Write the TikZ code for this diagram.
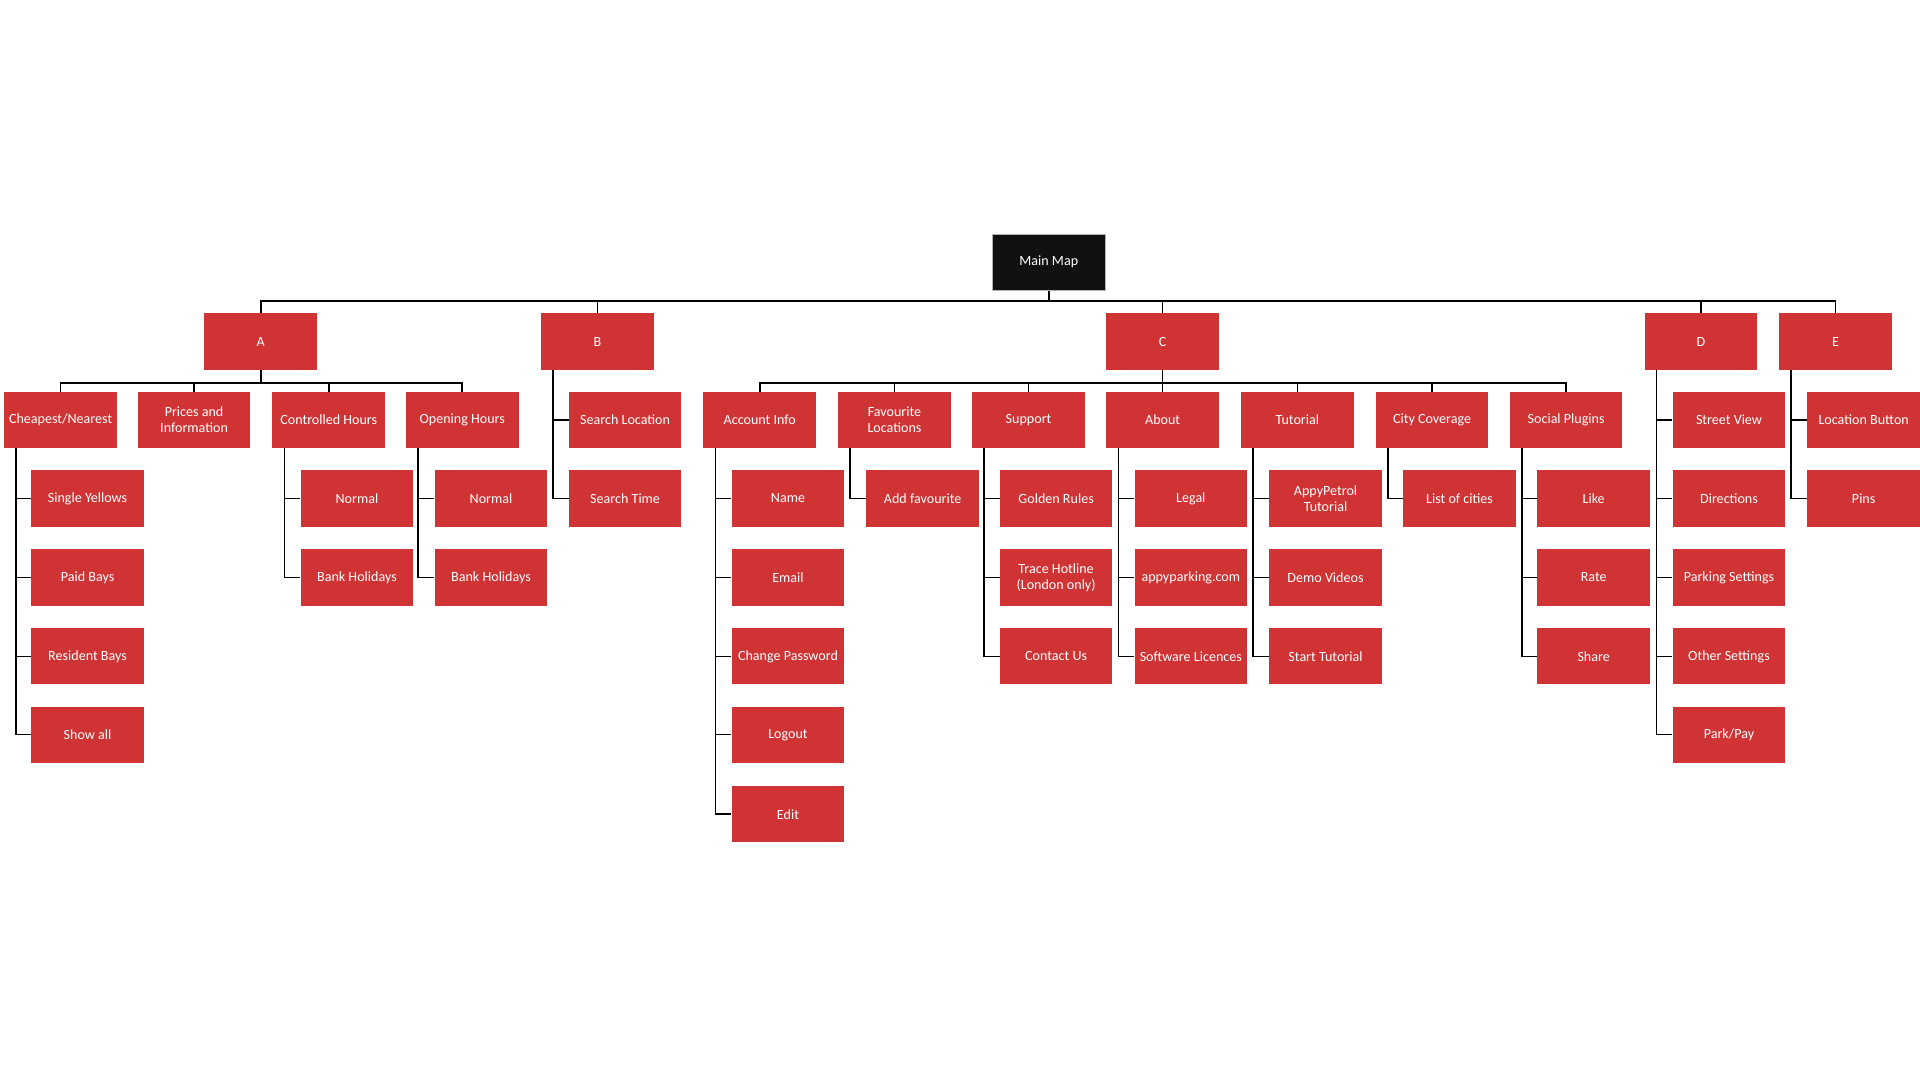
\documentclass[tikz,border=0pt]{standalone}
\usepackage{fontspec}
\setmainfont{Carlito}
\definecolor{boxred}{RGB}{207,51,52}
\definecolor{boxblack}{RGB}{17,17,17}
\begin{document}
\begin{tikzpicture}[x=1pt,y=-1pt,
  box/.style={rectangle,fill=boxred,text=white,minimum width=92pt,minimum height=46pt,inner sep=1pt,align=center,font=\fontsize{11.5}{13}\selectfont},
  rootbox/.style={box,fill=boxblack,draw=gray!60,line width=0.6pt},
  conn/.style={draw=black,line width=1.3pt}]
\useasboundingbox (0,0) rectangle (1568,880);
\fill[white] (0,0) rectangle (1568,880);
% root
\node[rootbox] (mm) at (856.5,214) {Main Map};
% level 1
\node[box] (A) at (213,279) {A};
\node[box] (B) at (488,279) {B};
\node[box] (C) at (949.5,279) {C};
\node[box] (D) at (1389,279) {D};
\node[box] (E) at (1499,279) {E};
% A children
\node[box] (a1) at (49.5,343) {Cheapest/Nearest};
\node[box] (a2) at (158.5,343) {Prices and\\Information};
\node[box] (a3) at (268.5,343) {Controlled Hours};
\node[box] (a4) at (377.5,343) {Opening Hours};
\node[box] (a11) at (71.5,407) {Single Yellows};
\node[box] (a12) at (71.5,471.5) {Paid Bays};
\node[box] (a13) at (71.5,536) {Resident Bays};
\node[box] (a14) at (71.5,600) {Show all};
\node[box] (a31) at (291.5,407) {Normal};
\node[box] (a32) at (291.5,471.5) {Bank Holidays};
\node[box] (a41) at (401,407) {Normal};
\node[box] (a42) at (401,471.5) {Bank Holidays};
% B children
\node[box] (b1) at (510.5,343) {Search Location};
\node[box] (b2) at (510.5,407) {Search Time};
% C children
\node[box] (c1) at (620.5,343) {Account Info};
\node[box] (c2) at (730.5,343) {Favourite\\Locations};
\node[box] (c3) at (840,343) {Support};
\node[box] (c4) at (949.5,343) {About};
\node[box] (c5) at (1059.5,343) {Tutorial};
\node[box] (c6) at (1169.5,343) {City Coverage};
\node[box] (c7) at (1279,343) {Social Plugins};
\node[box] (c11) at (643.5,407) {Name};
\node[box] (c12) at (643.5,471.5) {Email};
\node[box] (c13) at (643.5,536) {Change Password};
\node[box] (c14) at (643.5,600) {Logout};
\node[box] (c15) at (643.5,665) {Edit};
\node[box] (c21) at (753.5,407) {Add favourite};
\node[box] (c31) at (862.5,407) {Golden Rules};
\node[box] (c32) at (862.5,471.5) {Trace Hotline\\(London only)};
\node[box] (c33) at (862.5,536) {Contact Us};
\node[box] (c41) at (972.5,407) {Legal};
\node[box] (c42) at (972.5,471.5) {appyparking.com};
\node[box] (c43) at (972.5,536) {Software Licences};
\node[box] (c51) at (1082.5,407) {AppyPetrol\\Tutorial};
\node[box] (c52) at (1082.5,471.5) {Demo Videos};
\node[box] (c53) at (1082.5,536) {Start Tutorial};
\node[box] (c61) at (1192,407) {List of cities};
\node[box] (c71) at (1301.5,407) {Like};
\node[box] (c72) at (1301.5,471.5) {Rate};
\node[box] (c73) at (1301.5,536) {Share};
% D children
\node[box] (d1) at (1412,343) {Street View};
\node[box] (d2) at (1412,407) {Directions};
\node[box] (d3) at (1412,471.5) {Parking Settings};
\node[box] (d4) at (1412,536) {Other Settings};
\node[box] (d5) at (1412,600) {Park/Pay};
% E children
\node[box] (e1) at (1522,343) {Location Button};
\node[box] (e2) at (1522,407) {Pins};
% root bus
\coordinate (rbus) at (856.5,246);
\draw[conn] (mm.south) -- (rbus);
\foreach \n in {A,B,C,D,E} \draw[conn] (rbus) -| (\n.north);
% A bus
\coordinate (abus) at (213,313);
\draw[conn] (A.south) -- (abus);
\foreach \n in {a1,a2,a3,a4} \draw[conn] (abus) -| (\n.north);
% C bus
\coordinate (cbus) at (949.5,313);
\draw[conn] (C.south) -- (cbus);
\foreach \n in {c1,c2,c3,c4,c5,c6,c7} \draw[conn] (cbus) -| (\n.north);
% side connectors
\foreach \p/\k in {a1/a11,a1/a12,a1/a13,a1/a14,a3/a31,a3/a32,a4/a41,a4/a42,
  B/b1,B/b2,c1/c11,c1/c12,c1/c13,c1/c14,c1/c15,c2/c21,c3/c31,c3/c32,c3/c33,
  c4/c41,c4/c42,c4/c43,c5/c51,c5/c52,c5/c53,c6/c61,c7/c71,c7/c72,c7/c73,
  D/d1,D/d2,D/d3,D/d4,D/d5,E/e1,E/e2}
  \draw[conn] ([xshift=10pt]\p.south west) |- (\k.west);
\end{tikzpicture}
\end{document}
